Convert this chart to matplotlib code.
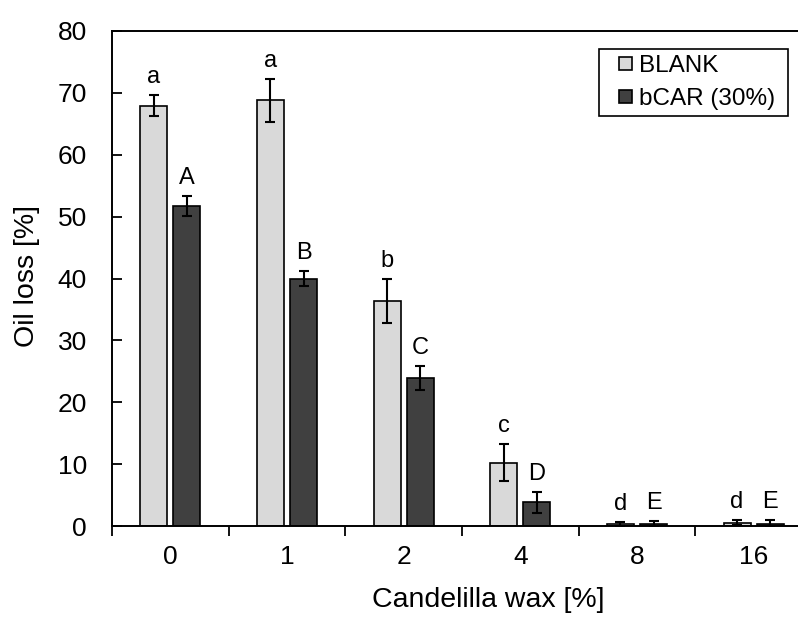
import numpy as np
import matplotlib.pyplot as plt
import matplotlib.patches as mpatches
from matplotlib.container import BarContainer
from matplotlib.legend_handler import HandlerPatch, update_from_first_child

plt.rcParams['font.family'] = ['Liberation Sans', 'DejaVu Sans']

# data
wax = ['0', '1', '2', '4', '8', '16']
blank = [67.9, 68.8, 36.4, 10.2, 0.3, 0.5]
blank_err = [1.7, 3.5, 3.6, 3.0, 0.3, 0.4]
bcar = [51.7, 40.0, 23.9, 3.8, 0.3, 0.4]
bcar_err = [1.6, 1.2, 1.9, 1.7, 0.5, 0.6]
blank_letters = ['a', 'a', 'b', 'c', 'd', 'd']
bcar_letters = ['A', 'B', 'C', 'D', 'E', 'E']

x = np.arange(len(wax))
w = 0.23
off = 0.142

fig = plt.figure(figsize=(7.98, 6.17), dpi=100)
ax = fig.add_axes([112/798, 91/617, 700/798, 495/617])

err_kw = dict(elinewidth=1.5, capsize=3.5, capthick=1.5, ecolor='black')
ax.bar(x - off, blank, w, yerr=blank_err, color='#d9d9d9', edgecolor='black',
       linewidth=1.2, error_kw=err_kw, label='BLANK')
ax.bar(x + off, bcar, w, yerr=bcar_err, color='#404040', edgecolor='black',
       linewidth=1.2, error_kw=err_kw, label='bCAR (30%)')

# significance letters above the error bars
for i in range(len(wax)):
    ax.annotate(blank_letters[i], (x[i] - off, blank[i] + blank_err[i]),
                xytext=(0, 5), textcoords='offset points', ha='center', va='bottom', fontsize=17)
    ax.annotate(bcar_letters[i], (x[i] + off, bcar[i] + bcar_err[i]),
                xytext=(0, 5), textcoords='offset points', ha='center', va='bottom', fontsize=17)

ax.set_xlim(-0.5, 5.5)
ax.set_ylim(0, 80)
ax.set_yticks(np.arange(0, 81, 10))
ax.set_xticks(x)
ax.set_xticklabels(wax)
ax.set_xticks(np.arange(-0.5, 5.6, 1), minor=True)
ax.tick_params(axis='x', which='major', length=0, labelsize=19, pad=14)
ax.tick_params(axis='x', which='minor', length=7, width=1.3, direction='out')
ax.tick_params(axis='y', direction='in', length=7, width=1.3, labelsize=19, pad=18)

for s in ax.spines.values():
    s.set_linewidth(1.4)
ax.spines['right'].set_visible(False)

ax.set_xlabel('Candelilla wax [%]', fontsize=20.5, va='center')
ax.set_ylabel('Oil loss [%]', fontsize=20.5, va='center')
ax.xaxis.set_label_coords(0.537, -0.1495)
ax.yaxis.set_label_coords(-0.121, 0.505)


# small square handle sitting at the right end of the handle box
def square(legend, orig_handle, xdescent, ydescent, width, height, fontsize):
    s = 9
    return mpatches.Rectangle((width - xdescent - s, -ydescent + (height - s) / 2), s, s)


handles, labels = ax.get_legend_handles_labels()
leg = ax.legend(handles, [l + ' ' for l in labels], loc='upper right',
                bbox_to_anchor=(0.966, 0.964), fontsize=17.5,
                frameon=True, fancybox=False, edgecolor='black', framealpha=1,
                handlelength=1.1, handleheight=0.6, handletextpad=0.3,
                borderpad=0.25, labelspacing=0.45, borderaxespad=0,
                handler_map={BarContainer: HandlerPatch(patch_func=square,
                                                        update_func=update_from_first_child)})
leg.get_frame().set_linewidth(1.2)

fig.savefig('out.png', dpi=100)
